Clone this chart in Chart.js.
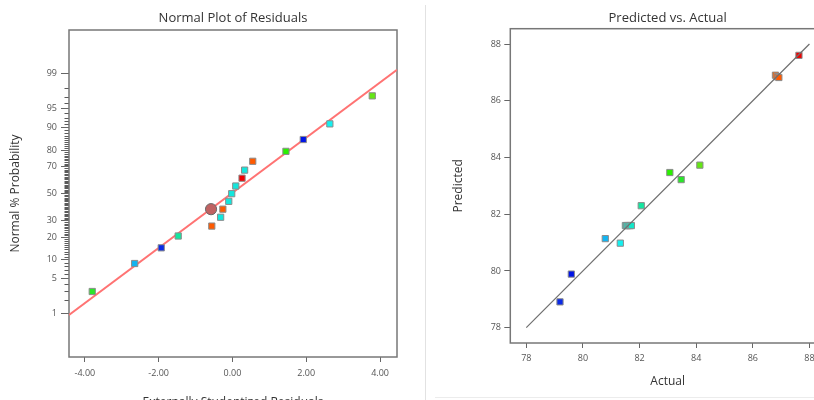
<!DOCTYPE html>
<html>
<head>
<meta charset="utf-8">
<script src="https://cdn.jsdelivr.net/npm/chart.js@4.4.1/dist/chart.umd.min.js"></script>
<style>
  html, body { margin: 0; padding: 0; background: #fff; }
  body { width: 814px; height: 400px; overflow: hidden; position: relative; }
  #left { position: absolute; left: 0; top: 0; }
  #right { position: absolute; left: 410px; top: 0; }
  .vline { position: absolute; left: 425px; top: 5px; width: 1px; height: 395px; background: #e2e2e2; }
  .hline { position: absolute; left: 435px; top: 397px; width: 379px; height: 1px; background: #ececec; }
</style>
</head>
<body>
<canvas id="left" width="410" height="412"></canvas>
<div class="vline"></div>
<div class="hline"></div>
<canvas id="right" width="430" height="400"></canvas>
<script>
// normal plot of residuals
const residuals = [-3.80, -2.65, -1.93, -1.47, -0.56, -0.32, -0.26, -0.10, -0.02, 0.09, 0.26, 0.33, 0.55, 1.45, 1.92, 2.64, 3.79];
const normalPct = [2.9, 8.8, 14.7, 20.6, 26.5, 32.4, 38.2, 44.1, 50.0, 55.9, 61.8, 67.6, 73.5, 79.4, 85.3, 91.2, 97.1];
const highlightX = [-0.58];
const highlightPct = [38.2];
const fitLineX = [-4.43, 4.46];
const fitLinePct = [0.94, 99.18];
const residTicks = [-4, -2, 0, 2, 4];
const pctTicks = [1, 5, 10, 20, 30, 50, 70, 80, 90, 95, 99];

// predicted vs actual
const actual = [79.19, 79.59, 80.79, 81.32, 81.50, 81.55, 81.60, 81.66, 81.71, 82.06, 83.07, 83.47, 84.13, 86.80, 86.86, 86.92, 87.63];
const predicted = [78.91, 79.89, 81.14, 80.98, 81.60, 81.60, 81.60, 81.60, 81.60, 82.30, 83.47, 83.22, 83.73, 86.90, 86.85, 86.82, 87.60];
const diagX = [78, 88];
const diagY = [78, 88];
const actualTicks = [78, 80, 82, 84, 86, 88];

// colours by run (response level)
const residColors = ['#2ae62a', '#14b4f0', '#0a2ae6', '#14e6a0', '#ff5a00', '#14e6dc', '#ff5a00', '#14e6dc', '#14e6dc',
  '#14e6dc', '#f00000', '#14e6dc', '#ff5a00', '#2af000', '#0014e6', '#14f0f0', '#64e614'];
const predColors = ['#0a2ae6', '#0014e6', '#14b4f0', '#14f0f0', '#14e6c8', '#14e6c8', '#14e6c8', '#14e6c8', '#14e6c8',
  '#14e6a0', '#2af000', '#2ae62a', '#64e614', '#ff6400', '#ff5a00', '#ff5a00', '#f00000'];

// inverse normal cdf (Acklam) for the probability axis
function probit(pct) {
  const p = pct / 100;
  const a = [-3.969683028665376e+01, 2.209460984245205e+02, -2.759285104469687e+02, 1.383577518672690e+02, -3.066479806614716e+01, 2.506628277459239e+00];
  const b = [-5.447609879822406e+01, 1.615858368580409e+02, -1.556989798598866e+02, 6.680131188771972e+01, -1.328068155288572e+01];
  const c = [-7.784894002430293e-03, -3.223964580411365e-01, -2.400758277161838e+00, -2.549732539343734e+00, 4.374664141464968e+00, 2.938163982698783e+00];
  const d = [7.784695709041462e-03, 3.224671290700398e-01, 2.445134137142996e+00, 3.754408661907416e+00];
  const pl = 0.02425;
  let q, r;
  if (p < pl) {
    q = Math.sqrt(-2 * Math.log(p));
    return (((((c[0]*q+c[1])*q+c[2])*q+c[3])*q+c[4])*q+c[5]) / ((((d[0]*q+d[1])*q+d[2])*q+d[3])*q+1);
  }
  if (p > 1 - pl) {
    q = Math.sqrt(-2 * Math.log(1 - p));
    return -(((((c[0]*q+c[1])*q+c[2])*q+c[3])*q+c[4])*q+c[5]) / ((((d[0]*q+d[1])*q+d[2])*q+d[3])*q+1);
  }
  q = p - 0.5; r = q * q;
  return (((((a[0]*r+a[1])*r+a[2])*r+a[3])*r+a[4])*r+a[5])*q / (((((b[0]*r+b[1])*r+b[2])*r+b[3])*r+b[4])*r+1);
}

Chart.defaults.font.family = "'Open Sans', sans-serif";
Chart.defaults.color = '#555';
Chart.defaults.animation = false;

// plot frame, plus short ticks at every whole percent when asked
const frame = {
  id: 'frame',
  beforeDatasetsDraw(chart, args, opts) {
    const { ctx, chartArea: a } = chart;
    ctx.save();
    if (opts.minor) {
      const y = chart.scales.y;
      ctx.strokeStyle = '#5a5a5a';
      ctx.lineWidth = 1;
      ctx.beginPath();
      for (let p = 1; p <= 99; p++) {
        if (pctTicks.includes(p)) continue;
        const py = Math.round(y.getPixelForValue(probit(p))) + 0.5;
        ctx.moveTo(a.left - 4.5, py);
        ctx.lineTo(a.left, py);
      }
      ctx.stroke();
    }
    ctx.strokeStyle = '#777';
    ctx.lineWidth = 1.5;
    ctx.strokeRect(a.left, a.top, a.right - a.left, a.bottom - a.top);
    ctx.restore();
  }
};

const titleFont = { size: 13, weight: 'normal' };
const axisTitleFont = { size: 12 };
const tickFont = { size: 9 };

new Chart(document.getElementById('left'), {
  type: 'scatter',
  data: {
    datasets: [
      {
        type: 'line',
        data: fitLineX.map((x, i) => ({ x, y: probit(fitLinePct[i]) })),
        borderColor: '#ff7373',
        borderWidth: 2,
        pointRadius: 0,
        order: 3
      },
      {
        data: residuals.map((x, i) => ({ x, y: probit(normalPct[i]) })),
        pointStyle: 'rect',
        pointRadius: 4.4,
        backgroundColor: residColors,
        borderColor: '#8c8c8c',
        borderWidth: 1,
        order: 2
      },
      {
        data: highlightX.map((x, i) => ({ x, y: probit(highlightPct[i]) })),
        pointStyle: 'circle',
        pointRadius: 5.6,
        backgroundColor: '#c06262',
        borderColor: '#6a6a6a',
        borderWidth: 1,
        order: 1
      }
    ]
  },
  options: {
    responsive: false,
    layout: { padding: { right: 13 } },
    plugins: {
      legend: { display: false },
      tooltip: { enabled: false },
      frame: { minor: true },
      title: { display: true, fullSize: false, text: 'Normal Plot of Residuals', color: '#333', font: titleFont, padding: { top: 10.5, bottom: 3.9 } }
    },
    scales: {
      x: {
        type: 'linear', min: -4.43, max: 4.46,
        afterFit: s => { s.height = 55; },
        afterBuildTicks: s => { s.ticks = residTicks.map(v => ({ value: v })); },
        ticks: { font: tickFont, padding: 6, maxRotation: 0, autoSkip: false, callback: v => v.toFixed(2) },
        grid: { drawOnChartArea: false, tickLength: 5, tickColor: '#666' },
        border: { display: false },
        title: { display: true, text: 'Externally Studentized Residuals', color: '#333', font: axisTitleFont, padding: { top: 0, bottom: 1.8 } }
      },
      y: {
        type: 'linear', min: -3.165, max: 3.172,
        afterFit: s => { s.width = 69; },
        afterBuildTicks: s => { s.ticks = pctTicks.map(p => ({ value: probit(p) })); },
        ticks: { font: tickFont, padding: 4, autoSkip: false, callback: (v, i) => pctTicks[i] },
        grid: { drawOnChartArea: false, tickLength: 8, tickColor: '#666' },
        border: { display: false },
        title: { display: true, text: 'Normal % Probability', color: '#333', font: axisTitleFont, padding: { top: 8.3, bottom: 0 } }
      }
    }
  },
  plugins: [frame]
});

new Chart(document.getElementById('right'), {
  type: 'scatter',
  data: {
    datasets: [
      {
        type: 'line',
        data: diagX.map((x, i) => ({ x, y: diagY[i] })),
        borderColor: '#6e6e6e',
        borderWidth: 1.2,
        pointRadius: 0,
        order: 1
      },
      {
        data: actual.map((x, i) => ({ x, y: predicted[i] })),
        pointStyle: 'rect',
        pointRadius: 4.4,
        backgroundColor: predColors,
        borderColor: '#8c8c8c',
        borderWidth: 1,
        order: 2
      }
    ]
  },
  options: {
    responsive: false,
    layout: { padding: { right: 15 } },
    plugins: {
      legend: { display: false },
      tooltip: { enabled: false },
      frame: { minor: false },
      title: { display: true, fullSize: false, text: 'Predicted vs. Actual', color: '#333', font: titleFont, padding: { top: 10.5, bottom: 2.6 } }
    },
    scales: {
      x: {
        type: 'linear', min: 77.435, max: 88.55,
        afterFit: s => { s.height = 57; },
        afterBuildTicks: s => { s.ticks = actualTicks.map(v => ({ value: v })); },
        ticks: { font: tickFont, padding: 5, maxRotation: 0, autoSkip: false, callback: v => v },
        grid: { drawOnChartArea: false, tickLength: 5, tickColor: '#666' },
        border: { display: false },
        title: { display: true, text: 'Actual', color: '#333', font: axisTitleFont, padding: { top: 0, bottom: 10.8 } }
      },
      y: {
        type: 'linear', min: 77.46, max: 88.54,
        afterFit: s => { s.width = 100.3; },
        afterBuildTicks: s => { s.ticks = actualTicks.map(v => ({ value: v })); },
        ticks: { font: tickFont, padding: 3.3, autoSkip: false, callback: v => v },
        grid: { drawOnChartArea: false, tickLength: 6, tickColor: '#666' },
        border: { display: false },
        title: { display: true, text: 'Predicted', color: '#333', font: axisTitleFont, padding: { top: 41.8, bottom: 0 } }
      }
    }
  },
  plugins: [frame]
});
</script>
</body>
</html>
